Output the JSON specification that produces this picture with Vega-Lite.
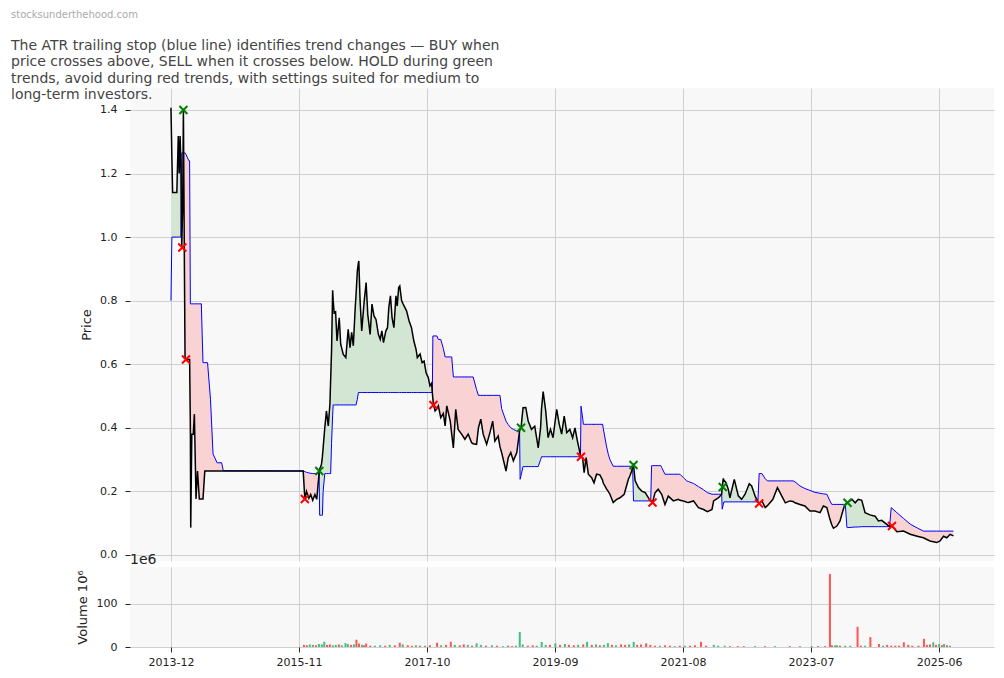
{
"$schema": "https://vega.github.io/schema/vega-lite/v6.json",
"background": "white",
"padding": {"left": 11, "top": 9, "right": 10, "bottom": 5},
"title": {"text": "stocksunderthehood.com", "subtitle": ["The ATR trailing stop (blue line) identifies trend changes — BUY when", "price crosses above, SELL when it crosses below. HOLD during green", "trends, avoid during red trends, with settings suited for medium to", "long-term investors."], "anchor": "start", "frame": "group", "dx": -119, "offset": -14, "fontSize": 10, "fontWeight": "normal", "color": "#aaaaaa", "font": "DejaVu Sans", "subtitleFont": "DejaVu Sans", "subtitleFontSize": 14, "subtitleColor": "#444444", "subtitleLineHeight": 16.5, "subtitlePadding": 19},
"bounds": "flush",
"spacing": 6,
"resolve": {"scale": {"color": "independent"}},
"vconcat": [
{
"width": 864, "height": 473,
"data": {"values": [
{"d":"2013-12-01","p":1.407,"s":0.80,"g":1,"t":"buy"},
{"d":"2013-12-06","p":1.25,"s":1.00,"g":1,"t":"buy"},
{"d":"2013-12-10","p":1.14,"s":1.00,"g":1,"t":"buy"},
{"d":"2014-01-02","p":1.14,"s":1.00,"g":1,"t":"buy"},
{"d":"2014-01-10","p":1.318,"s":1.00,"g":1,"t":"buy"},
{"d":"2014-01-15","p":1.20,"s":1.00,"g":1,"t":"buy"},
{"d":"2014-01-20","p":1.318,"s":1.00,"g":1,"t":"buy"},
{"d":"2014-01-24","p":1.23,"s":1.00,"g":1,"t":"buy"},
{"d":"2014-01-24","p":1.23,"s":1.00,"g":2,"t":"sell"},
{"d":"2014-01-29","p":0.967,"s":1.265,"g":2,"t":"sell"},
{"d":"2014-02-03","p":1.10,"s":1.265,"g":2,"t":"sell"},
{"d":"2014-02-07","p":1.40,"s":1.265,"g":2,"t":"sell"},
{"d":"2014-02-12","p":0.95,"s":1.265,"g":2,"t":"sell"},
{"d":"2014-02-16","p":0.62,"s":1.265,"g":2,"t":"sell"},
{"d":"2014-02-21","p":0.615,"s":1.26,"g":2,"t":"sell"},
{"d":"2014-03-09","p":0.615,"s":1.24,"g":2,"t":"sell"},
{"d":"2014-03-13","p":0.615,"s":1.24,"g":2,"t":"sell"},
{"d":"2014-03-17","p":0.40,"s":0.79,"g":2,"t":"sell"},
{"d":"2014-03-19","p":0.086,"s":0.79,"g":2,"t":"sell"},
{"d":"2014-03-25","p":0.38,"s":0.79,"g":2,"t":"sell"},
{"d":"2014-04-02","p":0.38,"s":0.79,"g":2,"t":"sell"},
{"d":"2014-04-08","p":0.443,"s":0.79,"g":2,"t":"sell"},
{"d":"2014-04-17","p":0.176,"s":0.79,"g":2,"t":"sell"},
{"d":"2014-04-25","p":0.264,"s":0.79,"g":2,"t":"sell"},
{"d":"2014-05-05","p":0.176,"s":0.79,"g":2,"t":"sell"},
{"d":"2014-05-16","p":0.176,"s":0.79,"g":2,"t":"sell"},
{"d":"2014-05-25","p":0.176,"s":0.605,"g":2,"t":"sell"},
{"d":"2014-06-04","p":0.264,"s":0.605,"g":2,"t":"sell"},
{"d":"2014-06-19","p":0.264,"s":0.605,"g":2,"t":"sell"},
{"d":"2014-07-05","p":0.264,"s":0.49,"g":2,"t":"sell"},
{"d":"2014-07-19","p":0.264,"s":0.318,"g":2,"t":"sell"},
{"d":"2014-08-10","p":0.264,"s":0.29,"g":2,"t":"sell"},
{"d":"2014-09-04","p":0.264,"s":0.29,"g":2,"t":"sell"},
{"d":"2014-09-13","p":0.264,"s":0.265,"g":2,"t":"sell"},
{"d":"2015-11-24","p":0.264,"s":0.264,"g":2,"t":"sell"},
{"d":"2015-12-03","p":0.175,"s":0.262,"g":2,"t":"sell"},
{"d":"2015-12-12","p":0.20,"s":0.26,"g":2,"t":"sell"},
{"d":"2015-12-25","p":0.178,"s":0.258,"g":2,"t":"sell"},
{"d":"2016-01-04","p":0.19,"s":0.257,"g":2,"t":"sell"},
{"d":"2016-01-15","p":0.172,"s":0.256,"g":2,"t":"sell"},
{"d":"2016-01-27","p":0.19,"s":0.256,"g":2,"t":"sell"},
{"d":"2016-02-06","p":0.175,"s":0.256,"g":2,"t":"sell"},
{"d":"2016-02-13","p":0.22,"s":0.256,"g":2,"t":"sell"},
{"d":"2016-02-19","p":0.256,"s":0.256,"g":2,"t":"sell"},
{"d":"2016-02-19","p":0.256,"s":0.256,"g":3,"t":"buy"},
{"d":"2016-02-22","p":0.27,"s":0.125,"g":3,"t":"buy"},
{"d":"2016-03-03","p":0.285,"s":0.125,"g":3,"t":"buy"},
{"d":"2016-03-08","p":0.31,"s":0.125,"g":3,"t":"buy"},
{"d":"2016-03-12","p":0.337,"s":0.20,"g":3,"t":"buy"},
{"d":"2016-03-21","p":0.40,"s":0.256,"g":3,"t":"buy"},
{"d":"2016-03-30","p":0.453,"s":0.256,"g":3,"t":"buy"},
{"d":"2016-04-09","p":0.406,"s":0.256,"g":3,"t":"buy"},
{"d":"2016-04-18","p":0.474,"s":0.256,"g":3,"t":"buy"},
{"d":"2016-04-22","p":0.55,"s":0.256,"g":3,"t":"buy"},
{"d":"2016-04-27","p":0.642,"s":0.35,"g":3,"t":"buy"},
{"d":"2016-05-03","p":0.833,"s":0.44,"g":3,"t":"buy"},
{"d":"2016-05-06","p":0.80,"s":0.472,"g":3,"t":"buy"},
{"d":"2016-05-11","p":0.762,"s":0.472,"g":3,"t":"buy"},
{"d":"2016-05-19","p":0.765,"s":0.472,"g":3,"t":"buy"},
{"d":"2016-05-27","p":0.673,"s":0.472,"g":3,"t":"buy"},
{"d":"2016-06-08","p":0.746,"s":0.472,"g":3,"t":"buy"},
{"d":"2016-06-16","p":0.663,"s":0.472,"g":3,"t":"buy"},
{"d":"2016-06-30","p":0.631,"s":0.472,"g":3,"t":"buy"},
{"d":"2016-07-14","p":0.621,"s":0.472,"g":3,"t":"buy"},
{"d":"2016-07-27","p":0.71,"s":0.472,"g":3,"t":"buy"},
{"d":"2016-08-06","p":0.652,"s":0.472,"g":3,"t":"buy"},
{"d":"2016-08-15","p":0.70,"s":0.472,"g":3,"t":"buy"},
{"d":"2016-08-24","p":0.658,"s":0.472,"g":3,"t":"buy"},
{"d":"2016-09-03","p":0.773,"s":0.472,"g":3,"t":"buy"},
{"d":"2016-09-08","p":0.82,"s":0.472,"g":3,"t":"buy"},
{"d":"2016-09-15","p":0.893,"s":0.49,"g":3,"t":"buy"},
{"d":"2016-09-21","p":0.92,"s":0.511,"g":3,"t":"buy"},
{"d":"2016-09-23","p":0.925,"s":0.511,"g":3,"t":"buy"},
{"d":"2016-09-30","p":0.80,"s":0.511,"g":3,"t":"buy"},
{"d":"2016-10-09","p":0.705,"s":0.511,"g":3,"t":"buy"},
{"d":"2016-10-21","p":0.789,"s":0.511,"g":3,"t":"buy"},
{"d":"2016-11-02","p":0.857,"s":0.511,"g":3,"t":"buy"},
{"d":"2016-11-11","p":0.757,"s":0.511,"g":3,"t":"buy"},
{"d":"2016-11-24","p":0.694,"s":0.511,"g":3,"t":"buy"},
{"d":"2016-12-04","p":0.789,"s":0.511,"g":3,"t":"buy"},
{"d":"2016-12-15","p":0.752,"s":0.511,"g":3,"t":"buy"},
{"d":"2016-12-26","p":0.741,"s":0.511,"g":3,"t":"buy"},
{"d":"2017-01-08","p":0.694,"s":0.511,"g":3,"t":"buy"},
{"d":"2017-01-18","p":0.678,"s":0.511,"g":3,"t":"buy"},
{"d":"2017-01-27","p":0.705,"s":0.511,"g":3,"t":"buy"},
{"d":"2017-02-05","p":0.668,"s":0.511,"g":3,"t":"buy"},
{"d":"2017-02-18","p":0.705,"s":0.511,"g":3,"t":"buy"},
{"d":"2017-02-27","p":0.715,"s":0.511,"g":3,"t":"buy"},
{"d":"2017-03-06","p":0.778,"s":0.511,"g":3,"t":"buy"},
{"d":"2017-03-15","p":0.815,"s":0.511,"g":3,"t":"buy"},
{"d":"2017-03-24","p":0.746,"s":0.511,"g":3,"t":"buy"},
{"d":"2017-04-03","p":0.715,"s":0.511,"g":3,"t":"buy"},
{"d":"2017-04-14","p":0.815,"s":0.511,"g":3,"t":"buy"},
{"d":"2017-04-21","p":0.783,"s":0.511,"g":3,"t":"buy"},
{"d":"2017-04-29","p":0.841,"s":0.511,"g":3,"t":"buy"},
{"d":"2017-05-05","p":0.846,"s":0.511,"g":3,"t":"buy"},
{"d":"2017-05-15","p":0.80,"s":0.511,"g":3,"t":"buy"},
{"d":"2017-05-23","p":0.79,"s":0.511,"g":3,"t":"buy"},
{"d":"2017-06-11","p":0.768,"s":0.511,"g":3,"t":"buy"},
{"d":"2017-06-25","p":0.736,"s":0.511,"g":3,"t":"buy"},
{"d":"2017-07-08","p":0.715,"s":0.511,"g":3,"t":"buy"},
{"d":"2017-07-21","p":0.673,"s":0.511,"g":3,"t":"buy"},
{"d":"2017-08-02","p":0.647,"s":0.511,"g":3,"t":"buy"},
{"d":"2017-08-09","p":0.621,"s":0.511,"g":3,"t":"buy"},
{"d":"2017-08-24","p":0.632,"s":0.511,"g":3,"t":"buy"},
{"d":"2017-09-04","p":0.605,"s":0.511,"g":3,"t":"buy"},
{"d":"2017-09-15","p":0.61,"s":0.511,"g":3,"t":"buy"},
{"d":"2017-09-26","p":0.573,"s":0.511,"g":3,"t":"buy"},
{"d":"2017-10-08","p":0.558,"s":0.511,"g":3,"t":"buy"},
{"d":"2017-10-17","p":0.532,"s":0.511,"g":3,"t":"buy"},
{"d":"2017-10-26","p":0.54,"s":0.511,"g":3,"t":"buy"},
{"d":"2017-10-30","p":0.511,"s":0.511,"g":3,"t":"buy"},
{"d":"2017-10-30","p":0.511,"s":0.511,"g":4,"t":"sell"},
{"d":"2017-11-02","p":0.49,"s":0.689,"g":4,"t":"sell"},
{"d":"2017-11-05","p":0.474,"s":0.689,"g":4,"t":"sell"},
{"d":"2017-11-14","p":0.453,"s":0.689,"g":4,"t":"sell"},
{"d":"2017-11-24","p":0.46,"s":0.689,"g":4,"t":"sell"},
{"d":"2017-12-02","p":0.469,"s":0.678,"g":4,"t":"sell"},
{"d":"2017-12-15","p":0.432,"s":0.678,"g":4,"t":"sell"},
{"d":"2017-12-29","p":0.445,"s":0.65,"g":4,"t":"sell"},
{"d":"2018-01-08","p":0.406,"s":0.623,"g":4,"t":"sell"},
{"d":"2018-01-17","p":0.469,"s":0.623,"g":4,"t":"sell"},
{"d":"2018-02-05","p":0.421,"s":0.623,"g":4,"t":"sell"},
{"d":"2018-02-13","p":0.38,"s":0.623,"g":4,"t":"sell"},
{"d":"2018-02-22","p":0.337,"s":0.56,"g":4,"t":"sell"},
{"d":"2018-03-07","p":0.458,"s":0.56,"g":4,"t":"sell"},
{"d":"2018-03-20","p":0.395,"s":0.56,"g":4,"t":"sell"},
{"d":"2018-04-08","p":0.38,"s":0.56,"g":4,"t":"sell"},
{"d":"2018-04-26","p":0.364,"s":0.56,"g":4,"t":"sell"},
{"d":"2018-05-14","p":0.38,"s":0.56,"g":4,"t":"sell"},
{"d":"2018-06-02","p":0.353,"s":0.56,"g":4,"t":"sell"},
{"d":"2018-06-10","p":0.35,"s":0.56,"g":4,"t":"sell"},
{"d":"2018-06-29","p":0.348,"s":0.52,"g":4,"t":"sell"},
{"d":"2018-07-09","p":0.40,"s":0.502,"g":4,"t":"sell"},
{"d":"2018-07-22","p":0.427,"s":0.502,"g":4,"t":"sell"},
{"d":"2018-08-04","p":0.38,"s":0.502,"g":4,"t":"sell"},
{"d":"2018-08-23","p":0.348,"s":0.502,"g":4,"t":"sell"},
{"d":"2018-09-10","p":0.385,"s":0.502,"g":4,"t":"sell"},
{"d":"2018-09-25","p":0.421,"s":0.502,"g":4,"t":"sell"},
{"d":"2018-10-07","p":0.358,"s":0.502,"g":4,"t":"sell"},
{"d":"2018-10-25","p":0.374,"s":0.502,"g":4,"t":"sell"},
{"d":"2018-11-04","p":0.34,"s":0.502,"g":4,"t":"sell"},
{"d":"2018-11-13","p":0.322,"s":0.46,"g":4,"t":"sell"},
{"d":"2018-12-07","p":0.264,"s":0.421,"g":4,"t":"sell"},
{"d":"2018-12-19","p":0.306,"s":0.41,"g":4,"t":"sell"},
{"d":"2019-01-02","p":0.322,"s":0.40,"g":4,"t":"sell"},
{"d":"2019-01-16","p":0.296,"s":0.395,"g":4,"t":"sell"},
{"d":"2019-02-04","p":0.322,"s":0.39,"g":4,"t":"sell"},
{"d":"2019-02-19","p":0.39,"s":0.39,"g":4,"t":"sell"},
{"d":"2019-02-19","p":0.39,"s":0.39,"g":5,"t":"buy"},
{"d":"2019-02-22","p":0.395,"s":0.238,"g":5,"t":"buy"},
{"d":"2019-02-27","p":0.40,"s":0.25,"g":5,"t":"buy"},
{"d":"2019-03-10","p":0.463,"s":0.278,"g":5,"t":"buy"},
{"d":"2019-03-25","p":0.464,"s":0.278,"g":5,"t":"buy"},
{"d":"2019-04-07","p":0.421,"s":0.278,"g":5,"t":"buy"},
{"d":"2019-04-25","p":0.395,"s":0.278,"g":5,"t":"buy"},
{"d":"2019-05-13","p":0.405,"s":0.278,"g":5,"t":"buy"},
{"d":"2019-06-01","p":0.337,"s":0.278,"g":5,"t":"buy"},
{"d":"2019-06-14","p":0.40,"s":0.30,"g":5,"t":"buy"},
{"d":"2019-06-19","p":0.46,"s":0.309,"g":5,"t":"buy"},
{"d":"2019-06-28","p":0.514,"s":0.309,"g":5,"t":"buy"},
{"d":"2019-07-12","p":0.453,"s":0.309,"g":5,"t":"buy"},
{"d":"2019-07-25","p":0.369,"s":0.309,"g":5,"t":"buy"},
{"d":"2019-08-07","p":0.395,"s":0.309,"g":5,"t":"buy"},
{"d":"2019-08-21","p":0.369,"s":0.309,"g":5,"t":"buy"},
{"d":"2019-09-10","p":0.458,"s":0.309,"g":5,"t":"buy"},
{"d":"2019-09-24","p":0.411,"s":0.309,"g":5,"t":"buy"},
{"d":"2019-10-07","p":0.38,"s":0.309,"g":5,"t":"buy"},
{"d":"2019-10-21","p":0.437,"s":0.309,"g":5,"t":"buy"},
{"d":"2019-11-04","p":0.385,"s":0.309,"g":5,"t":"buy"},
{"d":"2019-11-21","p":0.395,"s":0.309,"g":5,"t":"buy"},
{"d":"2019-12-06","p":0.369,"s":0.309,"g":5,"t":"buy"},
{"d":"2019-12-19","p":0.40,"s":0.309,"g":5,"t":"buy"},
{"d":"2020-01-01","p":0.359,"s":0.309,"g":5,"t":"buy"},
{"d":"2020-01-12","p":0.33,"s":0.309,"g":5,"t":"buy"},
{"d":"2020-01-18","p":0.309,"s":0.309,"g":5,"t":"buy"},
{"d":"2020-01-18","p":0.309,"s":0.309,"g":6,"t":"sell"},
{"d":"2020-01-21","p":0.31,"s":0.468,"g":6,"t":"sell"},
{"d":"2020-01-30","p":0.306,"s":0.43,"g":6,"t":"sell"},
{"d":"2020-02-03","p":0.28,"s":0.411,"g":6,"t":"sell"},
{"d":"2020-02-07","p":0.259,"s":0.411,"g":6,"t":"sell"},
{"d":"2020-02-18","p":0.306,"s":0.411,"g":6,"t":"sell"},
{"d":"2020-03-01","p":0.254,"s":0.411,"g":6,"t":"sell"},
{"d":"2020-03-19","p":0.243,"s":0.411,"g":6,"t":"sell"},
{"d":"2020-04-01","p":0.227,"s":0.411,"g":6,"t":"sell"},
{"d":"2020-04-15","p":0.254,"s":0.411,"g":6,"t":"sell"},
{"d":"2020-05-03","p":0.252,"s":0.411,"g":6,"t":"sell"},
{"d":"2020-05-18","p":0.235,"s":0.411,"g":6,"t":"sell"},
{"d":"2020-05-21","p":0.227,"s":0.40,"g":6,"t":"sell"},
{"d":"2020-06-09","p":0.207,"s":0.34,"g":6,"t":"sell"},
{"d":"2020-06-18","p":0.20,"s":0.317,"g":6,"t":"sell"},
{"d":"2020-06-27","p":0.191,"s":0.30,"g":6,"t":"sell"},
{"d":"2020-07-15","p":0.165,"s":0.279,"g":6,"t":"sell"},
{"d":"2020-08-03","p":0.175,"s":0.279,"g":6,"t":"sell"},
{"d":"2020-08-21","p":0.18,"s":0.279,"g":6,"t":"sell"},
{"d":"2020-09-13","p":0.191,"s":0.279,"g":6,"t":"sell"},
{"d":"2020-10-06","p":0.238,"s":0.279,"g":6,"t":"sell"},
{"d":"2020-10-15","p":0.25,"s":0.279,"g":6,"t":"sell"},
{"d":"2020-10-24","p":0.264,"s":0.279,"g":6,"t":"sell"},
{"d":"2020-10-29","p":0.279,"s":0.279,"g":6,"t":"sell"},
{"d":"2020-10-29","p":0.279,"s":0.279,"g":7,"t":"buy"},
{"d":"2020-11-03","p":0.283,"s":0.17,"g":7,"t":"buy"},
{"d":"2020-11-12","p":0.233,"s":0.17,"g":7,"t":"buy"},
{"d":"2020-11-30","p":0.212,"s":0.17,"g":7,"t":"buy"},
{"d":"2020-12-18","p":0.201,"s":0.17,"g":7,"t":"buy"},
{"d":"2021-01-06","p":0.196,"s":0.17,"g":7,"t":"buy"},
{"d":"2021-02-01","p":0.172,"s":0.17,"g":7,"t":"buy"},
{"d":"2021-02-05","p":0.17,"s":0.17,"g":7,"t":"buy"},
{"d":"2021-02-05","p":0.17,"s":0.17,"g":8,"t":"sell"},
{"d":"2021-02-10","p":0.168,"s":0.281,"g":8,"t":"sell"},
{"d":"2021-02-15","p":0.165,"s":0.281,"g":8,"t":"sell"},
{"d":"2021-03-01","p":0.196,"s":0.281,"g":8,"t":"sell"},
{"d":"2021-03-18","p":0.207,"s":0.281,"g":8,"t":"sell"},
{"d":"2021-04-01","p":0.195,"s":0.281,"g":8,"t":"sell"},
{"d":"2021-04-06","p":0.191,"s":0.275,"g":8,"t":"sell"},
{"d":"2021-04-24","p":0.159,"s":0.254,"g":8,"t":"sell"},
{"d":"2021-05-12","p":0.185,"s":0.254,"g":8,"t":"sell"},
{"d":"2021-06-09","p":0.17,"s":0.254,"g":8,"t":"sell"},
{"d":"2021-07-06","p":0.175,"s":0.254,"g":8,"t":"sell"},
{"d":"2021-07-15","p":0.172,"s":0.254,"g":8,"t":"sell"},
{"d":"2021-08-03","p":0.17,"s":0.243,"g":8,"t":"sell"},
{"d":"2021-08-21","p":0.166,"s":0.233,"g":8,"t":"sell"},
{"d":"2021-08-30","p":0.165,"s":0.231,"g":8,"t":"sell"},
{"d":"2021-09-27","p":0.17,"s":0.225,"g":8,"t":"sell"},
{"d":"2021-10-24","p":0.149,"s":0.215,"g":8,"t":"sell"},
{"d":"2021-11-21","p":0.143,"s":0.205,"g":8,"t":"sell"},
{"d":"2021-12-12","p":0.136,"s":0.196,"g":8,"t":"sell"},
{"d":"2022-01-06","p":0.143,"s":0.191,"g":8,"t":"sell"},
{"d":"2022-01-15","p":0.17,"s":0.191,"g":8,"t":"sell"},
{"d":"2022-02-11","p":0.18,"s":0.191,"g":8,"t":"sell"},
{"d":"2022-02-28","p":0.191,"s":0.191,"g":8,"t":"sell"},
{"d":"2022-02-28","p":0.191,"s":0.191,"g":9,"t":"buy"},
{"d":"2022-03-03","p":0.214,"s":0.144,"g":9,"t":"buy"},
{"d":"2022-03-09","p":0.241,"s":0.16,"g":9,"t":"buy"},
{"d":"2022-03-12","p":0.235,"s":0.167,"g":9,"t":"buy"},
{"d":"2022-03-23","p":0.228,"s":0.167,"g":9,"t":"buy"},
{"d":"2022-04-05","p":0.207,"s":0.167,"g":9,"t":"buy"},
{"d":"2022-04-14","p":0.18,"s":0.167,"g":9,"t":"buy"},
{"d":"2022-05-08","p":0.238,"s":0.167,"g":9,"t":"buy"},
{"d":"2022-05-30","p":0.186,"s":0.167,"g":9,"t":"buy"},
{"d":"2022-06-17","p":0.175,"s":0.167,"g":9,"t":"buy"},
{"d":"2022-07-06","p":0.191,"s":0.167,"g":9,"t":"buy"},
{"d":"2022-07-29","p":0.224,"s":0.167,"g":9,"t":"buy"},
{"d":"2022-08-11","p":0.217,"s":0.167,"g":9,"t":"buy"},
{"d":"2022-08-30","p":0.185,"s":0.167,"g":9,"t":"buy"},
{"d":"2022-09-14","p":0.167,"s":0.167,"g":9,"t":"buy"},
{"d":"2022-09-14","p":0.167,"s":0.167,"g":10,"t":"sell"},
{"d":"2022-09-21","p":0.162,"s":0.256,"g":10,"t":"sell"},
{"d":"2022-10-06","p":0.17,"s":0.256,"g":10,"t":"sell"},
{"d":"2022-10-24","p":0.149,"s":0.24,"g":10,"t":"sell"},
{"d":"2022-11-05","p":0.155,"s":0.233,"g":10,"t":"sell"},
{"d":"2022-12-05","p":0.175,"s":0.233,"g":10,"t":"sell"},
{"d":"2022-12-30","p":0.212,"s":0.233,"g":10,"t":"sell"},
{"d":"2023-01-23","p":0.185,"s":0.233,"g":10,"t":"sell"},
{"d":"2023-02-11","p":0.164,"s":0.233,"g":10,"t":"sell"},
{"d":"2023-03-08","p":0.17,"s":0.233,"g":10,"t":"sell"},
{"d":"2023-03-26","p":0.168,"s":0.233,"g":10,"t":"sell"},
{"d":"2023-04-05","p":0.164,"s":0.23,"g":10,"t":"sell"},
{"d":"2023-05-02","p":0.159,"s":0.217,"g":10,"t":"sell"},
{"d":"2023-05-29","p":0.154,"s":0.209,"g":10,"t":"sell"},
{"d":"2023-06-26","p":0.138,"s":0.203,"g":10,"t":"sell"},
{"d":"2023-07-23","p":0.138,"s":0.197,"g":10,"t":"sell"},
{"d":"2023-08-20","p":0.133,"s":0.194,"g":10,"t":"sell"},
{"d":"2023-09-07","p":0.154,"s":0.192,"g":10,"t":"sell"},
{"d":"2023-09-26","p":0.149,"s":0.191,"g":10,"t":"sell"},
{"d":"2023-10-13","p":0.112,"s":0.17,"g":10,"t":"sell"},
{"d":"2023-10-23","p":0.095,"s":0.159,"g":10,"t":"sell"},
{"d":"2023-11-01","p":0.084,"s":0.159,"g":10,"t":"sell"},
{"d":"2023-11-20","p":0.091,"s":0.159,"g":10,"t":"sell"},
{"d":"2023-12-07","p":0.107,"s":0.159,"g":10,"t":"sell"},
{"d":"2023-12-25","p":0.144,"s":0.159,"g":10,"t":"sell"},
{"d":"2024-01-05","p":0.159,"s":0.159,"g":10,"t":"sell"},
{"d":"2024-01-05","p":0.159,"s":0.159,"g":11,"t":"buy"},
{"d":"2024-01-14","p":0.165,"s":0.086,"g":11,"t":"buy"},
{"d":"2024-01-17","p":0.165,"s":0.086,"g":11,"t":"buy"},
{"d":"2024-02-10","p":0.175,"s":0.087,"g":11,"t":"buy"},
{"d":"2024-02-28","p":0.164,"s":0.088,"g":11,"t":"buy"},
{"d":"2024-03-16","p":0.175,"s":0.088,"g":11,"t":"buy"},
{"d":"2024-04-04","p":0.172,"s":0.089,"g":11,"t":"buy"},
{"d":"2024-04-22","p":0.133,"s":0.089,"g":11,"t":"buy"},
{"d":"2024-05-19","p":0.126,"s":0.089,"g":11,"t":"buy"},
{"d":"2024-06-16","p":0.122,"s":0.089,"g":11,"t":"buy"},
{"d":"2024-07-04","p":0.107,"s":0.089,"g":11,"t":"buy"},
{"d":"2024-07-22","p":0.109,"s":0.089,"g":11,"t":"buy"},
{"d":"2024-08-19","p":0.096,"s":0.089,"g":11,"t":"buy"},
{"d":"2024-09-03","p":0.089,"s":0.089,"g":11,"t":"buy"},
{"d":"2024-09-03","p":0.089,"s":0.089,"g":12,"t":"sell"},
{"d":"2024-09-12","p":0.09,"s":0.149,"g":12,"t":"sell"},
{"d":"2024-09-16","p":0.091,"s":0.147,"g":12,"t":"sell"},
{"d":"2024-10-13","p":0.073,"s":0.133,"g":12,"t":"sell"},
{"d":"2024-11-18","p":0.075,"s":0.115,"g":12,"t":"sell"},
{"d":"2024-12-25","p":0.065,"s":0.097,"g":12,"t":"sell"},
{"d":"2025-02-01","p":0.059,"s":0.085,"g":12,"t":"sell"},
{"d":"2025-03-07","p":0.054,"s":0.075,"g":12,"t":"sell"},
{"d":"2025-04-12","p":0.044,"s":0.075,"g":12,"t":"sell"},
{"d":"2025-05-19","p":0.039,"s":0.075,"g":12,"t":"sell"},
{"d":"2025-06-06","p":0.044,"s":0.075,"g":12,"t":"sell"},
{"d":"2025-06-25","p":0.059,"s":0.075,"g":12,"t":"sell"},
{"d":"2025-07-13","p":0.054,"s":0.075,"g":12,"t":"sell"},
{"d":"2025-07-31","p":0.065,"s":0.075,"g":12,"t":"sell"},
{"d":"2025-08-18","p":0.06,"s":0.075,"g":12,"t":"sell"}
]},
"layer": [
{"mark": {"type": "area", "opacity": 1, "interpolate": "linear"},
 "encoding": {
  "x": {"field": "d", "type": "temporal", "scale": {"type": "utc", "nice": false, "padding": 0, "domain": [{"year": 2013, "month": 4, "date": 21, "utc": true}, {"year": 2026, "month": 3, "date": 28, "utc": true}]},
        "axis": {"title": null, "labels": false, "ticks": false, "domain": false, "grid": true, "values": [{"year": 2013, "month": 12, "date": 1, "utc": true}, {"year": 2015, "month": 11, "date": 1, "utc": true}, {"year": 2017, "month": 10, "date": 1, "utc": true}, {"year": 2019, "month": 9, "date": 1, "utc": true}, {"year": 2021, "month": 8, "date": 1, "utc": true}, {"year": 2023, "month": 7, "date": 1, "utc": true}, {"year": 2025, "month": 6, "date": 1, "utc": true}]}},
  "y": {"field": "p", "type": "quantitative", "scale": {"domain": [-0.019, 1.469], "nice": false, "zero": false},
        "axis": {"title": "Price", "values": [0, 0.2, 0.4, 0.6, 0.8, 1.0, 1.2, 1.4], "format": ".1f", "titlePadding": 6}},
  "y2": {"field": "s"},
  "color": {"field": "t", "type": "nominal", "scale": {"domain": ["buy", "sell"], "range": ["#d3e6d3", "#f9d3d3"]}, "legend": null},
  "detail": {"field": "g", "type": "nominal"}
 }},
{"mark": {"type": "line", "color": "#0000ff", "strokeWidth": 1},
 "encoding": {"x": {"field": "d", "type": "temporal"}, "y": {"field": "s", "type": "quantitative"}}},
{"mark": {"type": "line", "color": "#000000", "strokeWidth": 1.5},
 "encoding": {"x": {"field": "d", "type": "temporal"}, "y": {"field": "p", "type": "quantitative"}}},
{"data": {"values": [
 {"d": "2014-02-07", "p": 1.40, "k": "BUY"},
 {"d": "2016-02-20", "p": 0.264, "k": "BUY"},
 {"d": "2019-02-27", "p": 0.40, "k": "BUY"},
 {"d": "2020-11-03", "p": 0.283, "k": "BUY"},
 {"d": "2022-03-06", "p": 0.214, "k": "BUY"},
 {"d": "2024-01-17", "p": 0.164, "k": "BUY"},
 {"d": "2014-02-01", "p": 0.967, "k": "SELL"},
 {"d": "2014-02-21", "p": 0.615, "k": "SELL"},
 {"d": "2015-12-03", "p": 0.176, "k": "SELL"},
 {"d": "2017-11-05", "p": 0.472, "k": "SELL"},
 {"d": "2020-01-21", "p": 0.309, "k": "SELL"},
 {"d": "2021-02-15", "p": 0.165, "k": "SELL"},
 {"d": "2022-09-21", "p": 0.162, "k": "SELL"},
 {"d": "2024-09-16", "p": 0.091, "k": "SELL"}
 ]},
 "mark": {"type": "point", "shape": "M-1,-1L1,1M-1,1L1,-1", "filled": false, "strokeWidth": 2, "size": 64, "opacity": 1},
 "encoding": {"x": {"field": "d", "type": "temporal"}, "y": {"field": "p", "type": "quantitative"},
  "stroke": {"field": "k", "type": "nominal", "scale": {"domain": ["BUY", "SELL"], "range": ["#008000", "#ff0000"]}, "legend": null}}}
]
},
{
"width": 864, "height": 80,
"title": {"text": "1e6", "anchor": "start", "frame": "group", "fontSize": 14, "fontWeight": "normal", "color": "#222222", "offset": 0, "font": "DejaVu Sans"},
"data": {"values": [
{"d":"2015-11-28","v":5,"c":"down"},{"d":"2015-12-14","v":4,"c":"down"},{"d":"2015-12-30","v":6,"c":"up"},{"d":"2016-01-16","v":5,"c":"up"},
{"d":"2016-02-02","v":4,"c":"down"},{"d":"2016-02-18","v":7,"c":"up"},{"d":"2016-03-05","v":6,"c":"up"},{"d":"2016-03-18","v":12,"c":"up"},
{"d":"2016-04-02","v":5,"c":"down"},{"d":"2016-04-18","v":6,"c":"down"},{"d":"2016-05-04","v":4,"c":"up"},{"d":"2016-05-20","v":5,"c":"up"},
{"d":"2016-06-06","v":6,"c":"down"},{"d":"2016-06-22","v":4,"c":"up"},{"d":"2016-07-12","v":9,"c":"up"},{"d":"2016-07-25","v":7,"c":"up"},
{"d":"2016-08-11","v":5,"c":"down"},{"d":"2016-08-27","v":6,"c":"up"},{"d":"2016-09-10","v":17,"c":"down"},{"d":"2016-09-24","v":8,"c":"down"},
{"d":"2016-10-10","v":5,"c":"up"},{"d":"2016-10-21","v":4,"c":"down"},{"d":"2016-11-02","v":8,"c":"down"},{"d":"2016-11-24","v":3,"c":"down"},
{"d":"2016-12-20","v":3,"c":"up"},{"d":"2017-01-18","v":4,"c":"up"},{"d":"2017-02-14","v":3,"c":"down"},{"d":"2017-03-11","v":5,"c":"up"},
{"d":"2017-04-08","v":4,"c":"down"},{"d":"2017-05-05","v":10,"c":"down"},{"d":"2017-05-21","v":6,"c":"up"},{"d":"2017-06-18","v":4,"c":"down"},
{"d":"2017-07-10","v":3,"c":"down"},{"d":"2017-08-01","v":4,"c":"up"},{"d":"2017-08-23","v":3,"c":"down"},{"d":"2017-09-20","v":3,"c":"up"},
{"d":"2017-10-17","v":4,"c":"down"},{"d":"2017-11-25","v":10,"c":"down"},{"d":"2017-12-16","v":4,"c":"up"},{"d":"2018-01-13","v":5,"c":"down"},
{"d":"2018-02-08","v":12,"c":"down"},{"d":"2018-03-02","v":5,"c":"up"},{"d":"2018-03-29","v":4,"c":"down"},{"d":"2018-04-20","v":6,"c":"down"},
{"d":"2018-05-12","v":5,"c":"up"},{"d":"2018-06-04","v":3,"c":"down"},{"d":"2018-06-29","v":8.5,"c":"up"},{"d":"2018-07-22","v":5,"c":"up"},
{"d":"2018-08-19","v":3,"c":"down"},{"d":"2018-09-21","v":4,"c":"up"},{"d":"2018-10-18","v":3,"c":"down"},{"d":"2018-11-20","v":2,"c":"up"},
{"d":"2018-12-18","v":3,"c":"down"},{"d":"2019-01-09","v":2,"c":"down"},{"d":"2019-01-30","v":3,"c":"up"},{"d":"2019-02-20","v":35,"c":"up"},
{"d":"2019-03-08","v":6,"c":"up"},{"d":"2019-04-05","v":3,"c":"down"},{"d":"2019-05-02","v":4,"c":"down"},{"d":"2019-05-24","v":3,"c":"up"},
{"d":"2019-06-20","v":11.6,"c":"up"},{"d":"2019-07-12","v":5,"c":"up"},{"d":"2019-08-04","v":5,"c":"down"},{"d":"2019-09-03","v":8.5,"c":"up"},
{"d":"2019-09-28","v":5,"c":"down"},{"d":"2019-10-25","v":7,"c":"up"},{"d":"2019-11-16","v":5,"c":"down"},{"d":"2019-12-13","v":4,"c":"down"},
{"d":"2020-01-05","v":5,"c":"up"},{"d":"2020-02-02","v":6,"c":"down"},{"d":"2020-02-23","v":12,"c":"up"},{"d":"2020-03-20","v":5,"c":"down"},
{"d":"2020-04-12","v":6,"c":"up"},{"d":"2020-05-03","v":4,"c":"down"},{"d":"2020-05-25","v":5,"c":"up"},{"d":"2020-06-16","v":9,"c":"up"},
{"d":"2020-07-08","v":5,"c":"down"},{"d":"2020-07-30","v":4,"c":"up"},{"d":"2020-08-27","v":6,"c":"down"},{"d":"2020-09-18","v":5,"c":"down"},
{"d":"2020-10-10","v":6,"c":"up"},{"d":"2020-11-04","v":12,"c":"up"},{"d":"2020-11-23","v":5,"c":"down"},{"d":"2020-12-14","v":6,"c":"down"},
{"d":"2021-01-11","v":8.5,"c":"down"},{"d":"2021-02-03","v":5,"c":"down"},{"d":"2021-02-28","v":3,"c":"down"},{"d":"2021-03-27","v":3,"c":"up"},
{"d":"2021-04-24","v":4,"c":"down"},{"d":"2021-05-21","v":3,"c":"down"},{"d":"2021-06-17","v":2,"c":"up"},{"d":"2021-07-14","v":3,"c":"down"},
{"d":"2021-08-11","v":3,"c":"up"},{"d":"2021-09-08","v":3,"c":"down"},{"d":"2021-10-05","v":4,"c":"down"},{"d":"2021-11-07","v":12,"c":"down"},
{"d":"2021-12-05","v":3,"c":"down"},{"d":"2022-01-16","v":5,"c":"up"},{"d":"2022-02-09","v":3,"c":"up"},{"d":"2022-03-17","v":3,"c":"up"},
{"d":"2022-04-14","v":2,"c":"down"},{"d":"2022-05-27","v":2,"c":"down"},{"d":"2022-06-29","v":2,"c":"down"},{"d":"2022-08-29","v":2,"c":"up"},
{"d":"2022-10-23","v":2,"c":"down"},{"d":"2022-12-17","v":2,"c":"up"},{"d":"2023-03-08","v":2,"c":"down"},{"d":"2023-05-02","v":2,"c":"up"},
{"d":"2023-07-06","v":2,"c":"up"},{"d":"2023-08-09","v":2,"c":"down"},{"d":"2023-09-16","v":2,"c":"down"},{"d":"2023-10-13","v":170,"c":"down"},
{"d":"2023-10-24","v":4,"c":"down"},{"d":"2023-11-10","v":4,"c":"up"},{"d":"2023-11-21","v":4,"c":"up"},{"d":"2023-12-07","v":3,"c":"down"},
{"d":"2024-01-04","v":3,"c":"up"},{"d":"2024-02-01","v":3,"c":"up"},{"d":"2024-03-12","v":47,"c":"down"},{"d":"2024-03-30","v":3,"c":"down"},
{"d":"2024-04-22","v":3,"c":"up"},{"d":"2024-05-21","v":23,"c":"down"},{"d":"2024-07-07","v":7,"c":"down"},{"d":"2024-07-29","v":3,"c":"up"},
{"d":"2024-08-21","v":5,"c":"down"},{"d":"2024-09-12","v":3,"c":"down"},{"d":"2024-10-04","v":3,"c":"down"},{"d":"2024-10-25","v":3,"c":"down"},
{"d":"2024-11-20","v":11,"c":"down"},{"d":"2024-12-14","v":5,"c":"down"},{"d":"2025-01-05","v":3,"c":"down"},{"d":"2025-02-08","v":3,"c":"down"},
{"d":"2025-03-10","v":19,"c":"down"},{"d":"2025-03-26","v":5,"c":"down"},{"d":"2025-04-12","v":6,"c":"down"},{"d":"2025-04-30","v":11,"c":"up"},
{"d":"2025-05-15","v":5,"c":"down"},{"d":"2025-06-01","v":7,"c":"up"},{"d":"2025-06-17","v":4,"c":"down"},{"d":"2025-06-28","v":7,"c":"up"},
{"d":"2025-07-14","v":4,"c":"down"},{"d":"2025-07-30","v":3,"c":"up"}
]},
"mark": {"type": "bar", "size": 2},
"encoding": {
 "x": {"field": "d", "type": "temporal", "scale": {"type": "utc", "nice": false, "padding": 0, "domain": [{"year": 2013, "month": 4, "date": 21, "utc": true}, {"year": 2026, "month": 3, "date": 28, "utc": true}]},
       "axis": {"title": null, "format": "%Y-%m", "grid": true, "labelPadding": 4, "values": [{"year": 2013, "month": 12, "date": 1, "utc": true}, {"year": 2015, "month": 11, "date": 1, "utc": true}, {"year": 2017, "month": 10, "date": 1, "utc": true}, {"year": 2019, "month": 9, "date": 1, "utc": true}, {"year": 2021, "month": 8, "date": 1, "utc": true}, {"year": 2023, "month": 7, "date": 1, "utc": true}, {"year": 2025, "month": 6, "date": 1, "utc": true}]}},
 "y": {"field": "v", "type": "quantitative", "scale": {"domain": [0, 186], "nice": false}, "axis": {"title": "Volume  10⁶", "values": [0, 100], "format": "d", "titlePadding": 7}},
 "color": {"field": "c", "type": "nominal", "scale": {"domain": ["up", "down"], "range": ["#40c080", "#ff5555"]}, "legend": null}
}
}
],
"config": {
 "font": "DejaVu Sans",
 "view": {"fill": "#f8f8f8", "stroke": null},
 "axis": {"labelFont": "DejaVu Sans", "titleFont": "DejaVu Sans", "labelFontSize": 11, "titleFontSize": 13, "titleFontWeight": "normal", "labelColor": "#222222", "titleColor": "#222222", "gridColor": "#d0d0d0", "gridWidth": 1, "domain": false, "tickColor": "#222222", "tickSize": 5, "labelPadding": 8}
}
}
